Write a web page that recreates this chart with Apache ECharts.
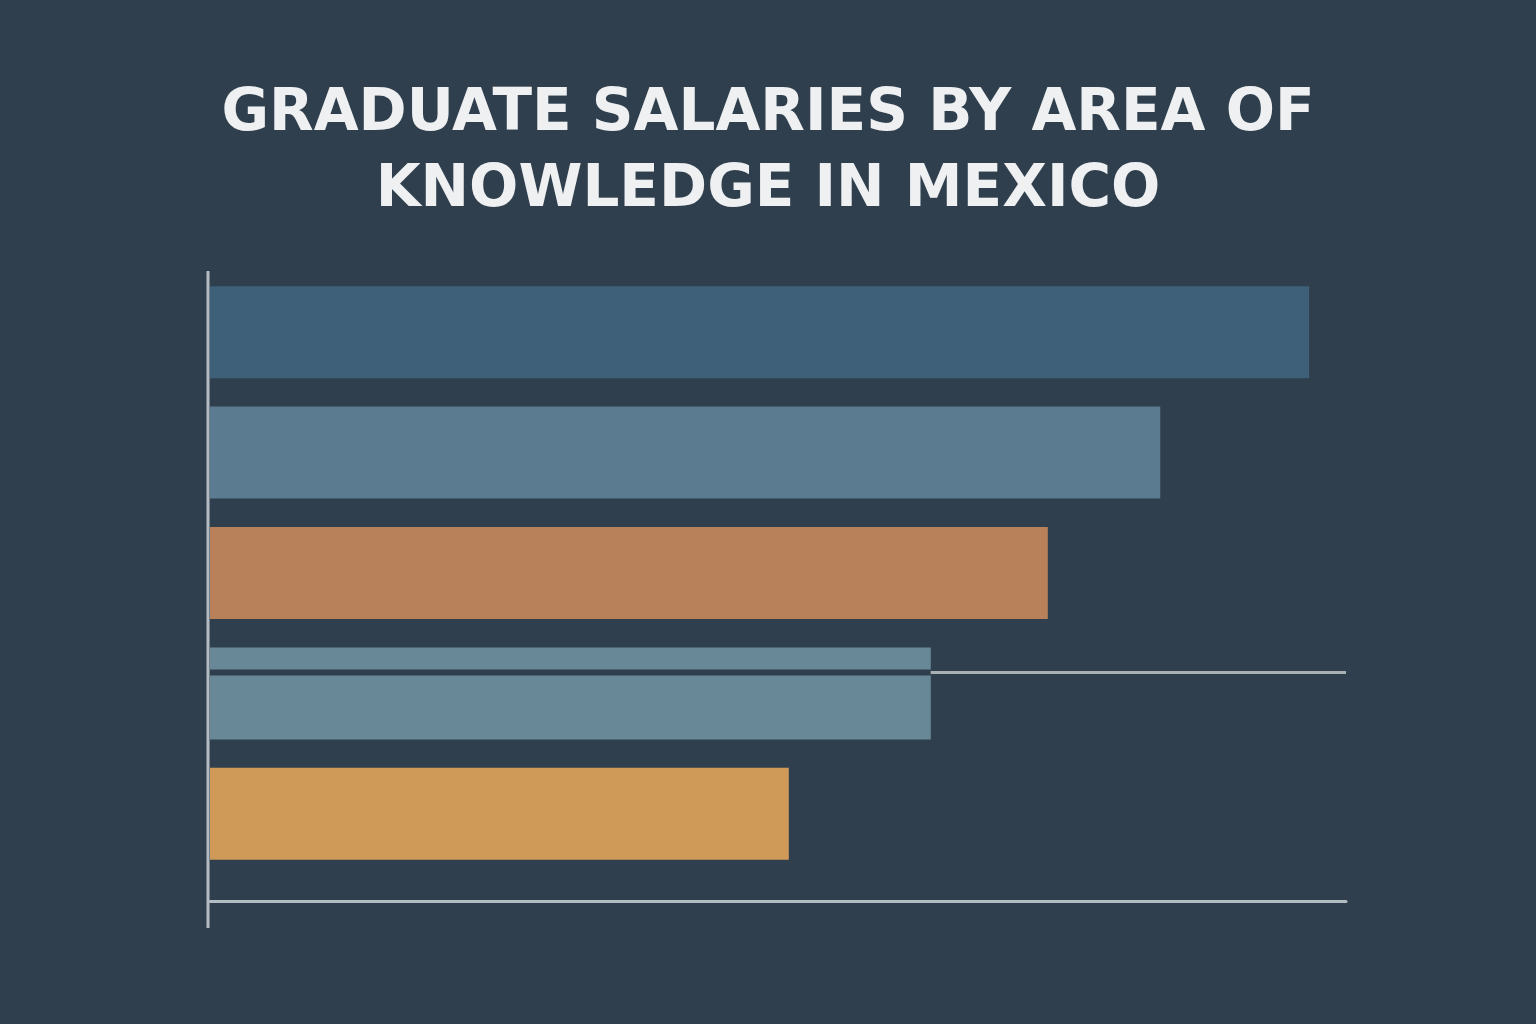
<!DOCTYPE html>
<html>
<head>
<meta charset="utf-8">
<title>Graduate salaries by area of knowledge in Mexico</title>
<script src="https://cdn.jsdelivr.net/npm/echarts@6/dist/echarts.min.js"></script>
<style>
  html, body { margin: 0; padding: 0; background: #2f3f4d; }
  #chart { width: 1536px; height: 1024px; }
</style>
</head>
<body>
<div id="chart"></div>
<script>
// areas of knowledge (no labels are shown in the picture)
var areas = ['Engineering', 'Health Sciences', 'Business', 'Social Sciences', 'Education'];
// monthly salary, MXN
var salaries = [19350, 16730, 14750, 12690, 10190];
var barColors = ['#3e6079', '#5b7b90', '#b88159', '#688898', '#cf9a58'];
var axisMax = 20000;

var chart = echarts.init(document.getElementById('chart'));

var option = {
    backgroundColor: '#2f3f4d',
    title: {
        text: 'GRADUATE SALARIES BY AREA OF\nKNOWLEDGE IN MEXICO',
        left: 'center',
        top: 72,
        textStyle: {
            color: '#eef0f2',
            fontFamily: 'DejaVu Sans',
            fontWeight: 'bold',
            fontSize: 58,
            lineHeight: 76
        }
    },
    grid: { left: 210, right: 190, top: 272, bottom: 150 },
    xAxis: {
        type: 'value',
        min: 0,
        max: axisMax,
        offset: 27,
        axisLine: { show: true, lineStyle: { color: '#b3bcc3', width: 3 } },
        axisTick: { show: false },
        axisLabel: { show: false },
        splitLine: { show: false }
    },
    yAxis: {
        type: 'category',
        inverse: true,
        data: areas,
        axisLine: { show: false },
        axisTick: { show: false },
        axisLabel: { show: false }
    },
    series: [{
        type: 'bar',
        barWidth: 92,
        data: salaries.map(function (v, i) {
            return { value: v, itemStyle: { color: barColors[i] } };
        })
    }]
};
chart.setOption(option);

// decorative lines: tall y axis line and the stray rule through the 4th bar
var g = chart.getModel().getComponent('grid').coordinateSystem.getRect();
var end4 = chart.convertToPixel({ gridIndex: 0 }, [salaries[3], 3]);
var ruleY = end4[1] - 21;
chart.setOption({
    graphic: [
        {
            type: 'line', z: 10,
            shape: { x1: g.x - 2, y1: g.y - 1, x2: g.x - 2, y2: 928 },
            style: { stroke: '#b3bcc3', lineWidth: 3 }
        },
        {
            type: 'line', z: 10,
            shape: { x1: g.x, y1: ruleY, x2: end4[0], y2: ruleY },
            style: { stroke: '#2f3f4d', lineWidth: 6 }
        },
        {
            type: 'line', z: 10,
            shape: { x1: end4[0], y1: ruleY, x2: g.x + g.width, y2: ruleY },
            style: { stroke: '#a9b0b4', lineWidth: 3 }
        }
    ]
});
</script>
</body>
</html>
